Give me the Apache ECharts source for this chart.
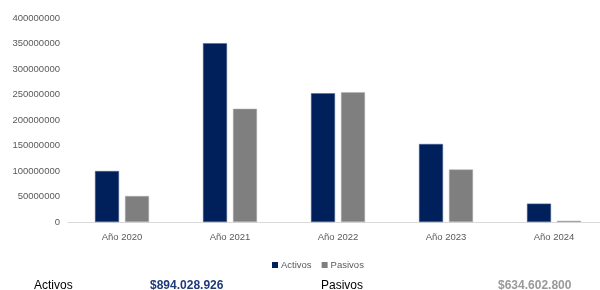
<!DOCTYPE html>
<html><head><meta charset="utf-8">
<script src="https://cdn.jsdelivr.net/npm/echarts@6/dist/echarts.min.js"></script>
<style>html,body{margin:0;padding:0;background:#fff}#c{width:600px;height:290px}</style>
</head><body><div id="c"></div>
<script>
const categories = ["Año 2020", "Año 2021", "Año 2022", "Año 2023", "Año 2024"];
const activos = [100000000, 350500000, 252500000, 153000000, 36000000];
const pasivos = [51000000, 222000000, 254500000, 103000000, 2500000];
const yTicks = [0, 50000000, 100000000, 150000000, 200000000, 250000000, 300000000, 350000000, 400000000];
const totalActivos = "$894.028.926";
const totalPasivos = "$634.602.800";

const chart = echarts.init(document.getElementById('c'), null, {renderer: 'canvas'});
const FONT = "Liberation Sans";
chart.setOption({
  animation: false,
  backgroundColor: '#fff',
  grid: {left: 68, width: 540, top: 18, height: 204, containLabel: false, outerBoundsMode: 'none'},
  legend: {
    data: ['Activos', 'Pasivos'],
    left: 267, top: 255,
    itemWidth: 6, itemHeight: 6, itemGap: 10,
    icon: 'rect',
    itemStyle: {borderWidth: 0},
    textStyle: {fontFamily: FONT, fontSize: 9.5, color: '#595959', padding: [0, 0, 0, -2]}
  },
  xAxis: {
    type: 'category', data: categories,
    axisLine: {lineStyle: {color: '#d9d9d9'}},
    axisTick: {show: false},
    axisLabel: {fontFamily: FONT, fontSize: 9.5, color: '#595959', margin: 10}
  },
  yAxis: {
    type: 'value', min: yTicks[0], max: yTicks[yTicks.length - 1], interval: yTicks[1] - yTicks[0],
    splitLine: {show: false},
    axisLine: {show: false}, axisTick: {show: false},
    axisLabel: {fontFamily: FONT, fontSize: 9.5, color: '#595959', margin: 8,
      formatter: v => String(v)}
  },
  series: [
    {name: 'Activos', type: 'bar', data: activos, barWidth: 24, barGap: '25%',
     itemStyle: {color: '#00205c', borderColor: '#4a6193', borderWidth: 0.5}},
    {name: 'Pasivos', type: 'bar', data: pasivos, barWidth: 24,
     itemStyle: {color: '#7f7f7f', borderColor: '#b0b0b0', borderWidth: 0.5}}
  ],
  graphic: [
    {type: 'text', x: 34, y: 292, style: {text: 'Activos', font: '12px "Liberation Sans"', fill: '#000', verticalAlign: 'bottom'}},
    {type: 'text', x: 150, y: 292, style: {text: totalActivos, font: 'bold 12px "Liberation Sans"', fill: '#1f3a7a', verticalAlign: 'bottom'}},
    {type: 'text', x: 321, y: 292, style: {text: 'Pasivos', font: '12px "Liberation Sans"', fill: '#000', verticalAlign: 'bottom'}},
    {type: 'text', x: 498, y: 292, style: {text: totalPasivos, font: 'bold 12px "Liberation Sans"', fill: '#999999', verticalAlign: 'bottom'}}
  ]
});
</script></body></html>
